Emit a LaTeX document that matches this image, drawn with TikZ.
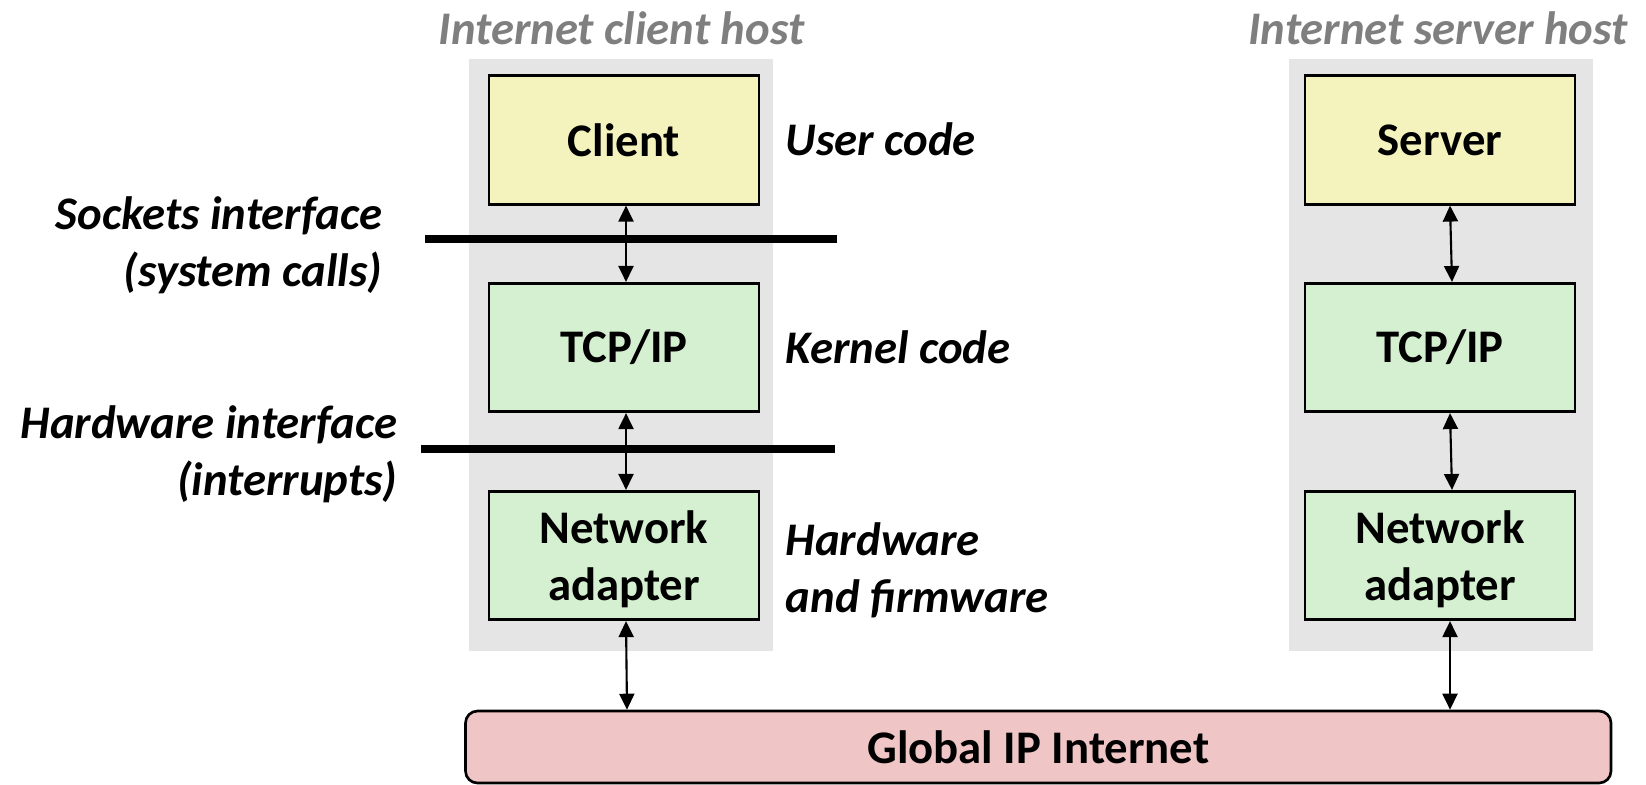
\documentclass[tikz,border=0pt]{standalone}
\usepackage{fontspec}
\setmainfont{Carlito}
\usetikzlibrary{arrows.meta}

\definecolor{hostgray}{HTML}{E5E5E5}
\definecolor{usercol}{HTML}{F5F3BD}
\definecolor{kernelcol}{HTML}{D5F0D0}
\definecolor{netcol}{HTML}{F0C5C5}
\definecolor{titlegray}{HTML}{7F7F7F}

\begin{document}
\begin{tikzpicture}[
  font=\fontsize{13.3}{16.2}\selectfont\bfseries,
  layerbox/.style={draw, line width=0.75pt, minimum width=2.7cm, minimum height=1.285cm, align=center, inner sep=0pt},
  twoline/.style={text depth=-0.065cm},
  lbl/.style={font=\fontsize{13.3}{16.2}\selectfont\bfseries\itshape, inner sep=0pt},
  iface/.style={line width=2.3pt},
  link/.style={<->, >={Triangle[length=0.16cm,width=0.15cm]}, line width=0.6pt}
]

\useasboundingbox (0,0) rectangle (16.46,-7.84);

\fill [hostgray] (4.69,-0.59) rectangle (7.73,-6.51);
\fill [hostgray] (12.89,-0.59) rectangle (15.93,-6.51);

\node [lbl, text=titlegray, anchor=base] (ctitle) at (6.215,-0.44) {Internet client host};
\node [lbl, text=titlegray, anchor=base] (stitle) at (14.38,-0.44) {Internet server host};

\node [layerbox, fill=usercol] (client) at (6.24,-1.40) {Client};
\node [layerbox, fill=kernelcol] (ctcp) at (6.24,-3.475) {TCP/IP};
\node [layerbox, twoline, fill=kernelcol] (cnet) at (6.24,-5.555) {Network\\adapter};

\node [layerbox, fill=usercol] (server) at (14.40,-1.40) {Server};
\node [layerbox, fill=kernelcol] (stcp) at (14.40,-3.475) {TCP/IP};
\node [layerbox, twoline, fill=kernelcol] (snet) at (14.40,-5.555) {Network\\adapter};

\node [draw, line width=0.75pt, rounded corners=0.12cm, fill=netcol, minimum width=11.455cm, minimum height=0.72cm, inner sep=0pt, text depth=-0.06cm] (inet) at (10.3825,-7.47) {Global IP Internet};

\coordinate (sockl) at (4.25,-2.39);
\coordinate (sockr) at (8.37,-2.39);
\coordinate (hwl) at (4.21,-4.49);
\coordinate (hwr) at (8.35,-4.49);
\draw [iface] (sockl) -- (sockr);
\draw [iface] (hwl) -- (hwr);

\node [lbl, anchor=base west] (user) at (7.85,-1.55) {User code};
\node [lbl, anchor=base west] (kernel) at (7.85,-3.63) {Kernel code};
\node [lbl, anchor=base west, align=left] (firm) at (7.85,-6.12) {Hardware\\and firmware};
\node [lbl, anchor=base east, align=right] (sockets) at (3.83,-2.86) {Sockets interface\\(system calls)};
\node [lbl, anchor=base east, align=right] (hwif) at (3.98,-4.95) {Hardware interface\\(interrupts)};

\draw [link] ([xshift=0.02cm]client.south) -- ([xshift=0.02cm]ctcp.north);
\draw [link] ([xshift=0.02cm]ctcp.south) -- ([xshift=0.02cm]cnet.north);
\draw [link] ([xshift=0.02cm]cnet.south) -- ([xshift=0.03cm]cnet.south |- inet.north);

\draw [link] ([xshift=0.1cm]server.south) -- ([xshift=0.12cm]stcp.north);
\draw [link] ([xshift=0.1cm]stcp.south) -- ([xshift=0.12cm]snet.north);
\draw [link] ([xshift=0.1cm]snet.south) -- ([xshift=0.1cm]snet.south |- inet.north);

\end{tikzpicture}
\end{document}
